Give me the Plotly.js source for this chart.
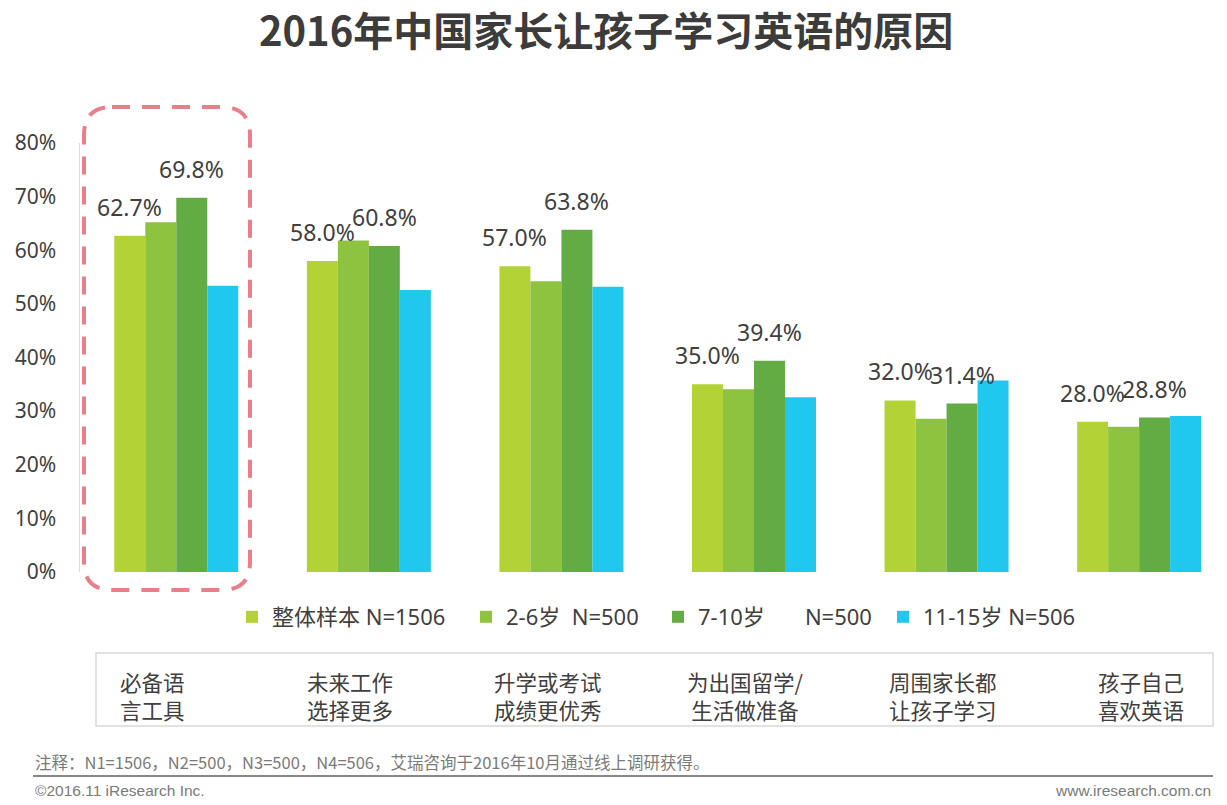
<!DOCTYPE html>
<html>
<head>
<meta charset="utf-8">
<script src="https://cdn.plot.ly/plotly-3.0.1.min.js"></script>
<style>html,body{margin:0;padding:0;background:#fff;}#chart{width:1227px;height:805px;}</style>
</head>
<body>
<div id="chart"></div>
<script>
// ---- data ----
const categories = ["必备语<br>言工具", "未来工作<br>选择更多", "升学或考试<br>成绩更优秀", "为出国留学/<br>生活做准备", "周围家长都<br>让孩子学习", "孩子自己<br>喜欢英语"];
const seriesNames = ["整体样本 N=1506", "2-6岁\u00a0\u00a0N=500", "7-10岁\u00a0\u00a0\u00a0\u00a0\u00a0\u00a0\u00a0N=500", "11-15岁 N=506"];
const overall = [62.7, 58.0, 57.0, 35.0, 32.0, 28.0];
const age2to6 = [65.2, 61.8, 54.2, 34.1, 28.6, 27.1];
const age7to10 = [69.8, 60.8, 63.8, 39.4, 31.4, 28.8];
const age11to15 = [53.4, 52.6, 53.2, 32.6, 35.7, 29.1];
const yTicks = [0, 10, 20, 30, 40, 50, 60, 70, 80];
const labeledSeries = [0, 2]; // series whose values are printed
const footnote = "注释：N1=1506，N2=500，N3=500，N4=506，艾瑞咨询于2016年10月通过线上调研获得。";
const copyright = "©2016.11 iResearch Inc.";
const website = "www.iresearch.com.cn";

// ---- layout helpers ----
const colors = ["#b3d236", "#8dc33f", "#63ac43", "#20c7ef"];
const allSeries = [overall, age2to6, age7to10, age11to15];
const L = 80, R = 1220, T = 143, B = 572;
const W = R - L, H = B - T;
const px = x => (x - L) / W;
const py = y => (B - y) / H;
const bargap = 0.356;
const nS = allSeries.length;
const bw = (1 - bargap) / nS;
const catIdx = categories.map((c, i) => i);

const traces = allSeries.map((vals, s) => ({
  type: "bar",
  name: seriesNames[s],
  x: catIdx,
  y: vals,
  marker: {color: colors[s], line: {width: 0}},
  legend: s === 0 ? "legend" : "legend" + (s + 1),
  hoverinfo: "none"
}));

const annotations = [];
labeledSeries.forEach(s => {
  allSeries[s].forEach((v, i) => {
    annotations.push({
      x: i - (1 - bargap) / 2 + bw * (s + 0.5), y: v, xref: "x", yref: "y",
      text: v.toFixed(1) + "%", showarrow: false, yanchor: "bottom", yshift: 11,
      font: {family: "Noto Sans, sans-serif", size: 23, color: "#404040"}
    });
  });
});
categories.forEach((c, i) => {
  annotations.push({
    x: px(152 + 197.8 * i), y: py(695), xref: "paper", yref: "paper",
    text: c, showarrow: false, xanchor: "center", yanchor: "middle", align: "center",
    font: {family: "Noto Sans CJK SC, sans-serif", size: 21.5, color: "#404040"}
  });
});
annotations.push({x: px(33), y: py(762), xref: "paper", yref: "paper", text: footnote, showarrow: false,
  xanchor: "left", yanchor: "middle", font: {family: "Noto Sans CJK SC, sans-serif", size: 16.5, color: "#7a7a7a"}});
annotations.push({x: px(33), y: py(790), xref: "paper", yref: "paper", text: copyright, showarrow: false,
  xanchor: "left", yanchor: "middle", font: {family: "Liberation Sans, Arial, sans-serif", size: 15.5, color: "#7a7a7a"}});
annotations.push({x: px(1213), y: py(790), xref: "paper", yref: "paper", text: website, showarrow: false,
  xanchor: "right", yanchor: "middle", font: {family: "Liberation Sans, Arial, sans-serif", size: 15.5, color: "#7a7a7a"}});

// rounded dashed highlight box
const bx0 = px(84), bx1 = px(250), by0 = py(590), by1 = py(107);
const rx = 28 / W, ry = 28 / H;
const boxPath = `M ${bx0 + rx},${by1} L ${bx1 - rx},${by1} Q ${bx1},${by1} ${bx1},${by1 - ry} L ${bx1},${by0 + ry} Q ${bx1},${by0} ${bx1 - rx},${by0} L ${bx0 + rx},${by0} Q ${bx0},${by0} ${bx0},${by0 + ry} L ${bx0},${by1 - ry} Q ${bx0},${by1} ${bx0 + rx},${by1} Z`;

const shapes = [
  {type: "path", xref: "paper", yref: "paper", path: boxPath, line: {color: "#e98089", width: 4, dash: "18px,12px"}},
  {type: "rect", xref: "paper", yref: "paper", x0: px(96), x1: px(1213), y0: py(726), y1: py(653), line: {color: "#d9d9d9", width: 1.5}},
  {type: "line", xref: "paper", yref: "paper", x0: px(33), x1: px(1213), y0: py(776), y1: py(776), line: {color: "#888888", width: 2}}
];

const legendIconX = [251, 485, 677, 902];
const legendFont = {family: "Noto Sans, Noto Sans CJK SC, sans-serif", size: 22, color: "#404040"};
const legends = {};
legendIconX.forEach((xi, s) => {
  const key = s === 0 ? "legend" : "legend" + (s + 1);
  legends[key] = {x: px(xi - 19), y: py(617), xanchor: "left", yanchor: "middle", orientation: "h",
    font: legendFont, bgcolor: "rgba(0,0,0,0)", borderwidth: 0};
});

const layout = Object.assign({
  width: 1227, height: 805,
  margin: {l: L, r: 1227 - R, t: T, b: 805 - B},
  paper_bgcolor: "#ffffff", plot_bgcolor: "#ffffff",
  title: {text: "<b>2016年中国家长让孩子学习英语的原因</b>", xref: "container", x: 0.494, xanchor: "center",
    yref: "container", y: 1 - 32 / 805, yanchor: "middle",
    font: {family: "Noto Sans CJK SC, sans-serif", size: 40, color: "#3c3c3c"}},
  barmode: "group", bargap: bargap, bargroupgap: 0,
  showlegend: true,
  xaxis: {range: [-0.5, 5.42], showticklabels: false, showgrid: false, zeroline: false, showline: false, ticks: "", fixedrange: true},
  yaxis: {range: [0, 80], tickvals: yTicks, ticktext: yTicks.map(v => v + "%"), showgrid: false, zeroline: false,
    showline: true, linecolor: "#dcdcdc", linewidth: 1.5, ticks: "", ticklabelstandoff: 18,
    tickfont: {family: "Noto Sans, sans-serif", size: 21, color: "#404040"}, fixedrange: true},
  annotations: annotations,
  shapes: shapes
}, legends);

Plotly.newPlot("chart", traces, layout, {displayModeBar: false, staticPlot: true});
</script>
</body>
</html>
